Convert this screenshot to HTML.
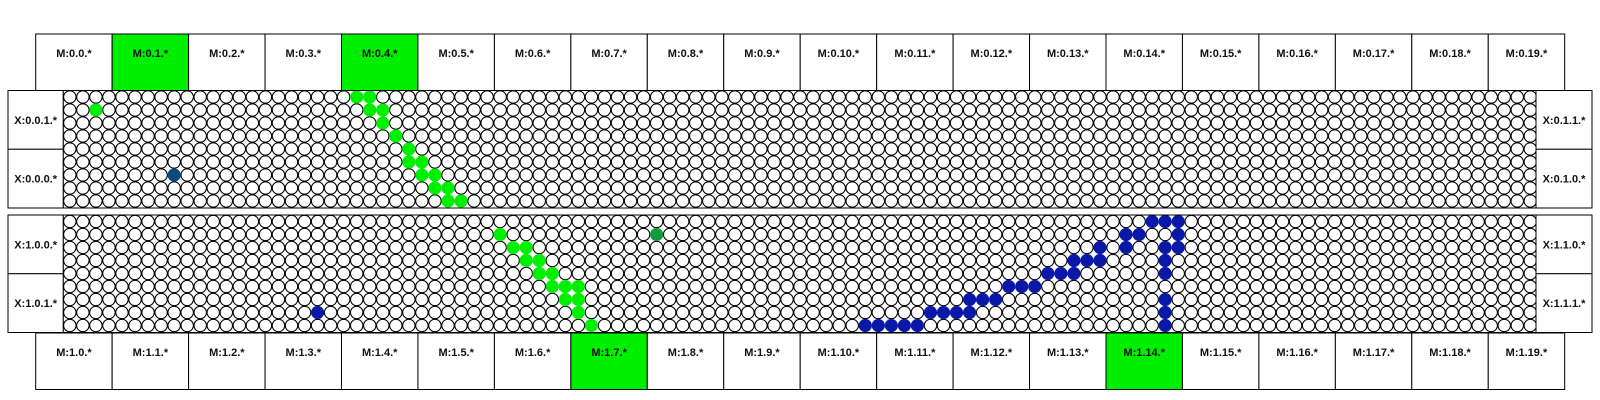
<!DOCTYPE html>
<html><head><meta charset="utf-8"><style>
html,body{margin:0;padding:0;background:#fff;}
svg{display:block;font-family:"Liberation Sans",sans-serif;}
text{font-weight:bold;font-size:11px;fill:#111;}
</style></head><body>
<svg id="chart" width="1600" height="400" viewBox="0 0 1600 400" xmlns="http://www.w3.org/2000/svg"></svg>
<script>
const topHeaderLabels = Array.from({length:20},(_,i)=>'M:0.'+i+'.*');
const bottomHeaderLabels = Array.from({length:20},(_,i)=>'M:1.'+i+'.*');
const topHighlighted = [1,4];
const bottomHighlighted = [7,14];
const panelLeftLabels = [['X:0.0.1.*','X:0.0.0.*'],['X:1.0.0.*','X:1.0.1.*']];
const panelRightLabels = [['X:0.1.1.*','X:0.1.0.*'],['X:1.1.0.*','X:1.1.1.*']];
const nCols = 113, nRows = 9;
// dots: [col,row,colorKey]
const panel0Dots = [[2,1,'g'],[8,6,'t'],
 [22,0,'g'],[23,0,'g'],[23,1,'g'],[24,1,'g'],[24,2,'g'],[25,3,'g'],[26,4,'g'],[26,5,'g'],[27,5,'g'],
 [27,6,'g'],[28,6,'g'],[28,7,'g'],[29,7,'g'],[29,8,'g'],[30,8,'g']];
const panel1Dots = [[19,7,'b'],[45,1,'d'],
 [33,1,'g'],[34,2,'g'],[35,2,'g'],[35,3,'g'],[36,3,'g'],[36,4,'g'],[37,4,'g'],[37,5,'g'],[38,5,'g'],[39,5,'g'],
 [38,6,'g'],[39,6,'g'],[39,7,'g'],[40,8,'g'],
 [61,8,'b'],[62,8,'b'],[63,8,'b'],[64,8,'b'],[65,8,'b'],[66,7,'b'],[67,7,'b'],[68,7,'b'],[69,7,'b'],
 [69,6,'b'],[70,6,'b'],[71,6,'b'],[72,5,'b'],[73,5,'b'],[74,5,'b'],[75,4,'b'],[76,4,'b'],[77,4,'b'],
 [77,3,'b'],[78,3,'b'],[79,3,'b'],[79,2,'b'],[81,2,'b'],[81,1,'b'],[82,1,'b'],[83,0,'b'],[84,0,'b'],[85,0,'b'],
 [85,1,'b'],[84,2,'b'],[85,2,'b'],[84,3,'b'],[84,4,'b'],[84,6,'b'],[84,7,'b'],[84,8,'b']];
const colors = {g:'#00ee00',d:'#119a3a',t:'#0a4a80',b:'#0a18a8'};

const NS='http://www.w3.org/2000/svg';
const svg=document.getElementById('chart');
function mk(tag,attrs,parent){const e=document.createElementNS(NS,tag);for(const k in attrs)e.setAttribute(k,attrs[k]);(parent||svg).appendChild(e);return e;}
const hdrX0=35.7, hdrW=76.45;
const gridX0=63.3, gridX1=1536, pitch=13.04, rowH=13;
const panels=[{y0:90.5,y1:208},{y0:215,y1:332.5}];
const colX=c=>gridX0+pitch/2+pitch*c;
function drawHeader(labels,hl,y0,y1,prefix){
  labels.forEach((lab,i)=>{
    const g=mk('g',{});
    
    
    mk('rect',{x:hdrX0+i*hdrW,y:y0,width:hdrW,height:y1-y0,fill:hl.includes(i)?'#00ee00':'#fff',stroke:'#000','stroke-width':1},g);
    const t=mk('text',{x:hdrX0+i*hdrW+hdrW/2,y:y0+23,'text-anchor':'middle'},g);t.textContent=lab;
  });
}
drawHeader(topHeaderLabels,topHighlighted,34,90.5,'top');
drawHeader(bottomHeaderLabels,bottomHighlighted,333,389.5,'bottom');
panels.forEach((p,pi)=>{
  const g=mk('g',{});
  
  
  const mid=(p.y0+p.y1)/2;
  [[8,gridX0,panelLeftLabels[pi],'left'],[gridX1,1592,panelRightLabels[pi],'right']].forEach(([a,b,labs,side])=>{
    labs.forEach((lab,k)=>{
      const yy=k===0?p.y0:mid, hh=k===0?mid-p.y0:p.y1-mid;
      const bx=mk('g',{},g);
      
      
      mk('rect',{x:a,y:yy,width:b-a,height:hh,fill:'#fff',stroke:'#000','stroke-width':1},bx);
      const t=mk('text',{x:(a+b)/2,y:yy+hh/2+4,'text-anchor':'middle'},bx);t.textContent=lab;
    });
  });
  const clip=mk('clipPath',{id:'clip'+pi},g);
  mk('rect',{x:gridX0,y:p.y0,width:gridX1-gridX0,height:p.y1-p.y0},clip);
  const grid=mk('g',{'clip-path':'url(#clip'+pi+')'},g);
  mk('rect',{x:gridX0,y:p.y0,width:gridX1-gridX0,height:p.y1-p.y0,fill:'#fff'},grid);
  const dots=pi===0?panel0Dots:panel1Dots;
  const map={};dots.forEach(d=>map[d[0]+','+d[1]]=d[2]);
  const r0=p.y0+6.5;
  for(let r=0;r<nRows;r++)for(let c=0;c<nCols;c++){
    const key=map[c+','+r];
    const cx=colX(c), cy=r0+r*rowH;
    if(!key){
      mk('circle',{cx:cx,cy:cy,r:6.2,fill:'#fff',stroke:'#000','stroke-width':1.1},grid);
    }
  }
  dots.forEach(d=>{
    const e=mk('circle',{cx:colX(d[0]),cy:r0+d[1]*rowH,r:6.6,fill:colors[d[2]]},grid);
    
    
  });
  mk('rect',{x:gridX0,y:p.y0,width:gridX1-gridX0,height:p.y1-p.y0,fill:'none',stroke:'#000','stroke-width':1},g);
});
</script>
</body></html>
